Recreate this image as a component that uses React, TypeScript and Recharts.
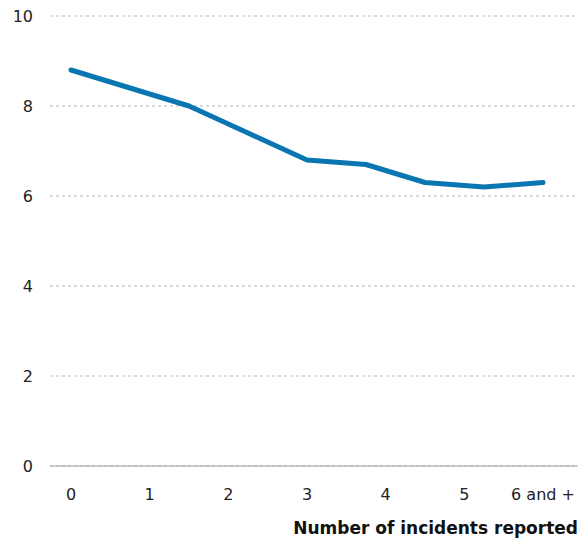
import { LineChart, Line, XAxis, YAxis, CartesianGrid } from 'recharts'

// positions along the incidents scale
const incidents = [0, 0.75, 1.5, 2.25, 3, 3.75, 4.5, 5.25, 6]
const values = [8.8, 8.4, 8.0, 7.4, 6.8, 6.7, 6.3, 6.2, 6.3]
const xTicks = [0, 1, 2, 3, 4, 5, 6]
const xTickLabels = ['0', '1', '2', '3', '4', '5', '6 and +']
const yTicks = [0, 2, 4, 6, 8, 10]

const data = incidents.map((x, i) => ({ x, value: values[i] }))

const font = '"DejaVu Sans", "Open Sans", sans-serif'

const AxisTitle = (props: any) => {
  const { viewBox } = props
  return (
    <text
      x={viewBox.x + viewBox.width}
      y={viewBox.y + 68}
      textAnchor="end"
      fontFamily={font}
      fontSize={17}
      fontWeight={700}
      fill="#111"
    >
      Number of incidents reported
    </text>
  )
}

export default function App() {
  return (
    <div style={{ position: 'absolute', left: 0, top: 0, background: '#fff' }}>
      <LineChart
        width={586}
        height={543}
        data={data}
        margin={{ top: 16, right: 8, left: 0, bottom: 0 }}
      >
        <CartesianGrid
          horizontal
          vertical={false}
          stroke="#b5b5b5"
          strokeDasharray="3 3"
        />
        <XAxis
          dataKey="x"
          type="number"
          domain={[0, 6]}
          ticks={xTicks}
          tickFormatter={(v: number) => xTickLabels[xTicks.indexOf(v)]}
          padding={{ left: 21, right: 35 }}
          height={77}
          axisLine={{ stroke: '#a0a0a0' }}
          tickLine={false}
          tickSize={0}
          tickMargin={23}
          tick={{ fontSize: 16, fill: '#222', fontFamily: font }}
          label={<AxisTitle />}
        />
        <YAxis
          domain={[0, 10]}
          ticks={yTicks}
          width={50}
          axisLine={false}
          tickLine={false}
          tickSize={0}
          tickMargin={17}
          tick={{ fontSize: 16, fill: '#222', fontFamily: font }}
        />
        <Line
          type="linear"
          dataKey="value"
          stroke="#0a76b1"
          strokeWidth={5}
          dot={false}
          strokeLinecap="round"
          strokeLinejoin="round"
          isAnimationActive={false}
        />
      </LineChart>
    </div>
  )
}
